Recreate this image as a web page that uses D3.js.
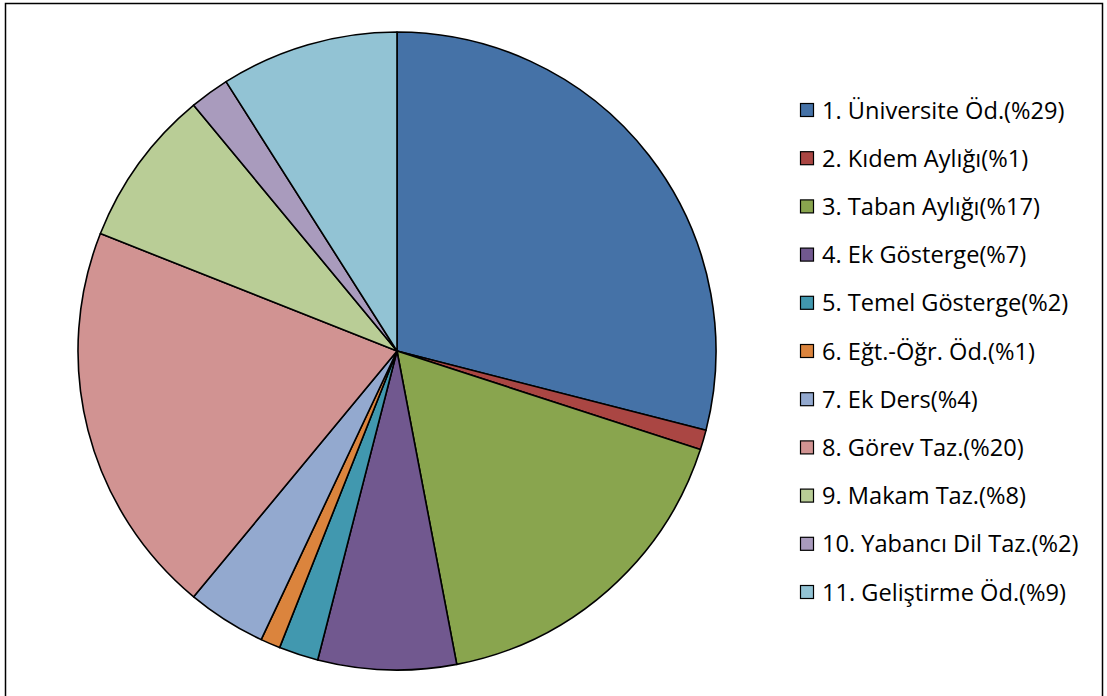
<!DOCTYPE html>
<html>
<head>
<meta charset="utf-8">
<script src="https://cdn.jsdelivr.net/npm/d3@7"></script>
<style>
  html, body { margin: 0; padding: 0; background: #fff; }
  svg { display: block; }
</style>
</head>
<body>
<svg id="chart" width="1107" height="696"></svg>
<script>
// Share of each pay component (percent)
const categories = [
  "1. Üniversite Öd.(%29)",
  "2. Kıdem Aylığı(%1)",
  "3. Taban Aylığı(%17)",
  "4. Ek Gösterge(%7)",
  "5. Temel Gösterge(%2)",
  "6. Eğt.-Öğr. Öd.(%1)",
  "7. Ek Ders(%4)",
  "8. Görev Taz.(%20)",
  "9. Makam Taz.(%8)",
  "10. Yabancı Dil Taz.(%2)",
  "11. Geliştirme Öd.(%9)"
];
const values = [29, 1, 17, 7, 2, 1, 4, 20, 8, 2, 9];
const colors = ["#4572A7", "#AA4643", "#89A54E", "#71588F", "#4198AF", "#DB843D",
                "#93A9CF", "#D19392", "#B9CD96", "#A99BBD", "#92C3D4"];

const data = categories.map((c, i) => ({ label: c, value: values[i], color: colors[i] }));

const svg = d3.select("#chart");

// outer frame
svg.append("rect")
  .attr("x", 5.5).attr("y", 3.5)
  .attr("width", 1097).attr("height", 700)
  .attr("fill", "#fff")
  .attr("stroke", "#000").attr("stroke-width", 1.5);

// pie
const cx = 397, cy = 351, r = 319;
const pie = d3.pie().sort(null).value(d => d.value).startAngle(0).endAngle(2 * Math.PI);
const arc = d3.arc().innerRadius(0).outerRadius(r);

svg.append("g")
  .attr("transform", `translate(${cx},${cy})`)
  .selectAll("path")
  .data(pie(data))
  .join("path")
  .attr("d", arc)
  .attr("fill", d => d.data.color)
  .attr("stroke", "#000")
  .attr("stroke-width", 1.6)
  .attr("stroke-linejoin", "round");

// legend
const y = d3.scalePoint().domain(categories).range([110, 592]);
const legend = svg.append("g");
const item = legend.selectAll("g")
  .data(data)
  .join("g")
  .attr("transform", d => `translate(800.5,${y(d.label)})`);

item.append("rect")
  .attr("x", 0).attr("y", -6.5)
  .attr("width", 13).attr("height", 13)
  .attr("fill", d => d.color)
  .attr("stroke", "#000").attr("stroke-width", 1.2);

item.append("text")
  .attr("x", 21.5).attr("y", 0)
  .attr("dy", "0.36em")
  .attr("font-family", "'Open Sans', sans-serif")
  .attr("font-size", 23.6)
  .attr("fill", "#000")
  .text(d => d.label);
</script>
</body>
</html>
